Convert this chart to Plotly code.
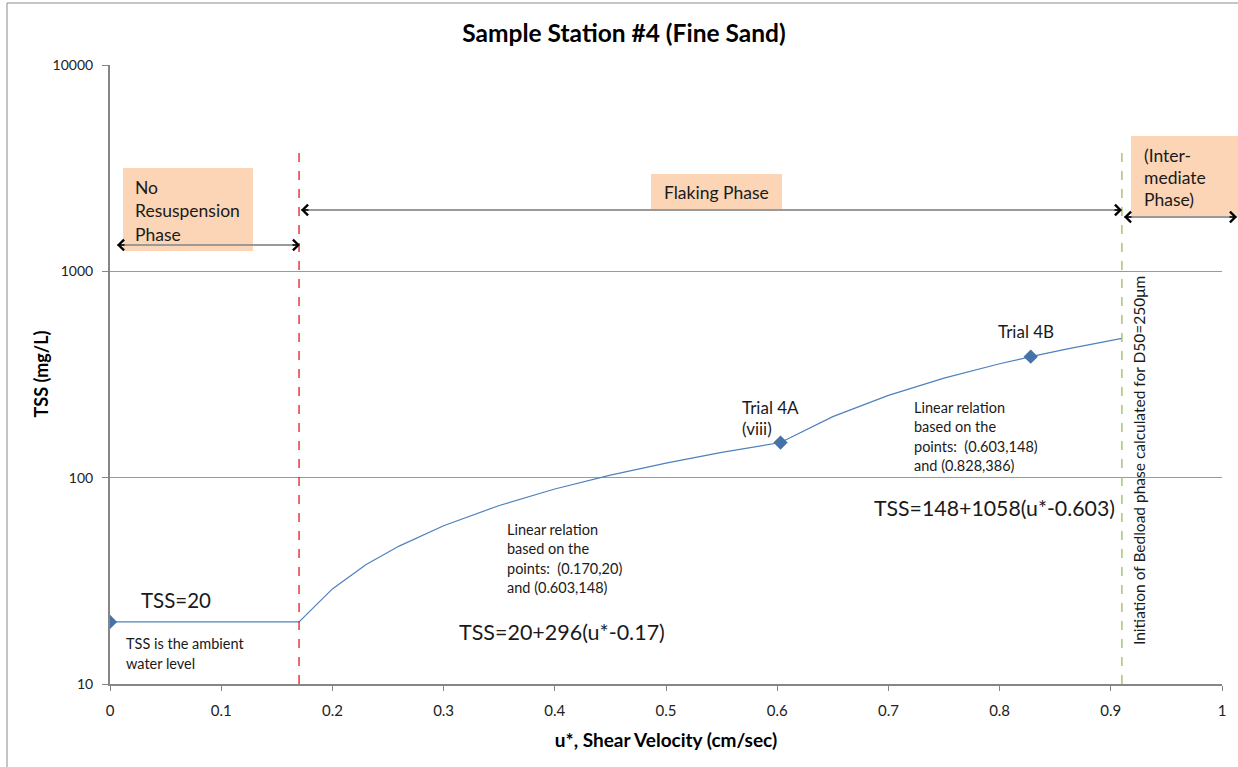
import plotly.graph_objects as go

# ---------------- data ----------------
curve_u = [0.0, 0.17, 0.20, 0.23, 0.26, 0.30, 0.35, 0.40, 0.45, 0.50, 0.55, 0.603,
           0.65, 0.70, 0.75, 0.80, 0.828, 0.86, 0.91]
curve_tss = [20, 20, 28.9, 37.8, 46.6, 58.5, 73.3, 88.1, 102.9, 117.7, 132.5, 148,
             197.7, 250.6, 303.5, 356.4, 386, 419.9, 472.8]
trial_u = [0.0, 0.603, 0.828]
trial_tss = [20, 148, 386]
x_ticks = [0, 0.1, 0.2, 0.3, 0.4, 0.5, 0.6, 0.7, 0.8, 0.9, 1]
x_tick_labels = ["0", "0.1", "0.2", "0.3", "0.4", "0.5", "0.6", "0.7", "0.8", "0.9", "1"]
y_ticks = [10, 100, 1000, 10000]
y_tick_labels = ["10", "100", "1000", "10000"]
onset_u = 0.17
bedload_u = 0.91

W, H = 1238, 767
L, R, T, B = 110, 16, 65, 83
PW, PH = W - L - R, H - T - B
FONT = "Lato"


def px(p):
    return (p - L) / PW


def py(p):
    return (H - B - p) / PH


fig = go.Figure()
fig.add_trace(go.Scatter(x=curve_u, y=curve_tss, mode="lines",
                         line=dict(color="#4f81bd", width=1.2),
                         hoverinfo="skip", showlegend=False))
fig.add_trace(go.Scatter(x=trial_u, y=trial_tss, mode="markers",
                         marker=dict(symbol="diamond", size=11, color="#4572a7"),
                         showlegend=False))

shapes = []
annos = []

# outer border
shapes.append(dict(type="rect", xref="paper", yref="paper",
                   x0=px(7), x1=px(1250), y0=py(780), y1=py(3),
                   line=dict(color="#8c8c8c", width=1), fillcolor="rgba(0,0,0,0)", layer="below"))

# vertical phase lines
shapes.append(dict(type="line", xref="x", yref="paper", x0=onset_u, x1=onset_u,
                   y0=0, y1=py(147), line=dict(color="#e31a1c", width=1.3, dash="dash")))
shapes.append(dict(type="line", xref="x", yref="paper", x0=bedload_u, x1=bedload_u,
                   y0=0, y1=py(145), line=dict(color="#9bbb59", width=1.3, dash="dash")))

# peach boxes
peach = "rgb(251,213,181)"
for x0, x1, y0, y1 in [(123, 253, 168, 251), (651, 782, 174, 209), (1131, 1238, 136, 217)]:
    shapes.append(dict(type="rect", xref="paper", yref="paper",
                       x0=px(x0), x1=px(x1), y0=py(y1), y1=py(y0),
                       fillcolor=peach, line=dict(width=0), layer="below"))

# double arrows
def double_arrow(xa, xb, yp):
    shapes.append(dict(type="line", xref="paper", yref="paper",
                       x0=px(xa), x1=px(xb), y0=py(yp), y1=py(yp),
                       line=dict(color="#9a9a9a", width=2)))
    for tip, off in [(xa, 9), (xb, -9)]:
        annos.append(dict(xref="paper", yref="paper", x=px(tip), y=py(yp), text="",
                          showarrow=True, ax=off, ay=0, arrowhead=4, arrowsize=1.3,
                          arrowwidth=1.6, arrowcolor="black"))


double_arrow(117, 300, 245)
double_arrow(301, 1122, 210)
double_arrow(1124, 1237, 217)


def text_lines(lines, x, y0, dy, size, anchor="left", bold=False, color="#1a1a1a"):
    for i, t in enumerate(lines):
        annos.append(dict(xref="paper", yref="paper", x=px(x), y=py(y0 + i * dy),
                          text=("<b>%s</b>" % t) if bold else t, showarrow=False,
                          xanchor=anchor, yanchor="middle",
                          font=dict(family=FONT, size=size, color=color)))


text_lines(["No", "Resuspension", "Phase"], 133, 187, 23.5, 17.5)
text_lines(["Flaking Phase"], 662, 193, 0, 17.5)
text_lines(["(Inter-", "mediate", "Phase)"], 1142, 155, 22.5, 17.5)
text_lines(["TSS=20"], 139, 600, 0, 20.5)
text_lines(["TSS is the ambient", "water level"], 124, 643, 20, 14.5)
text_lines(["Linear relation", "based on the", "points:  (0.170,20)", "and (0.603,148)"],
           505, 529, 19.5, 14.5)
text_lines(["TSS=20+296(u*-0.17)"], 457, 632, 0, 21.5)
text_lines(["Trial 4A", "(viii)"], 740, 407, 21, 17)
text_lines(["Linear relation", "based on the", "points:  (0.603,148)", "and (0.828,386)"],
           912, 407, 19.5, 14.5)
text_lines(["TSS=148+1058(u*-0.603)"], 872, 508, 0, 21.3)
text_lines(["Trial 4B"], 996, 331, 0, 17)

annos.append(dict(xref="paper", yref="paper", x=px(1139), y=py(461),
                  text="Initiation of Bedload phase calculated for D50=250μm",
                  showarrow=False, textangle=-90, xanchor="center", yanchor="middle",
                  font=dict(family=FONT, size=15.5, color="#1a1a1a")))

# y-axis title placed as annotation
annos.append(dict(xref="paper", yref="paper", x=px(40), y=0.5,
                  text="<b>TSS (mg/L)</b>", showarrow=False, textangle=-90,
                  xanchor="center", yanchor="middle",
                  font=dict(family=FONT, size=18, color="black")))

fig.update_layout(
    width=W, height=H,
    margin=dict(l=L, r=R, t=T, b=B),
    paper_bgcolor="white", plot_bgcolor="white",
    font=dict(family=FONT, size=12, color="#222"),
    title=dict(text="<b>Sample Station #4 (Fine Sand)</b>", x=624 / W,
               xanchor="center", y=1 - 33 / H, yanchor="middle",
               font=dict(family=FONT, size=24.5, color="black")),
    shapes=shapes, annotations=annos,
    xaxis=dict(range=[0, 1], tickvals=x_ticks, ticktext=x_tick_labels,
               showgrid=False, zeroline=False, showline=True, linecolor="#868686",
               linewidth=2, ticks="outside", ticklen=5, tickcolor="#868686",
               ticklabelstandoff=7,
               tickfont=dict(family=FONT, size=15, color="#222"),
               title=dict(text="<b>u*, Shear Velocity (cm/sec)</b>", standoff=16,
                          font=dict(family=FONT, size=19, color="black"))),
    yaxis=dict(type="log", range=[1, 4], tickvals=y_ticks, ticktext=y_tick_labels,
               showgrid=True, gridcolor="#9a9a9a", gridwidth=1, zeroline=False,
               showline=True, linecolor="#868686", linewidth=2,
               ticks="outside", ticklen=6, tickcolor="#868686",
               ticklabelstandoff=6,
               tickfont=dict(family=FONT, size=14, color="#222")),
)

fig.write_html("out.html")
